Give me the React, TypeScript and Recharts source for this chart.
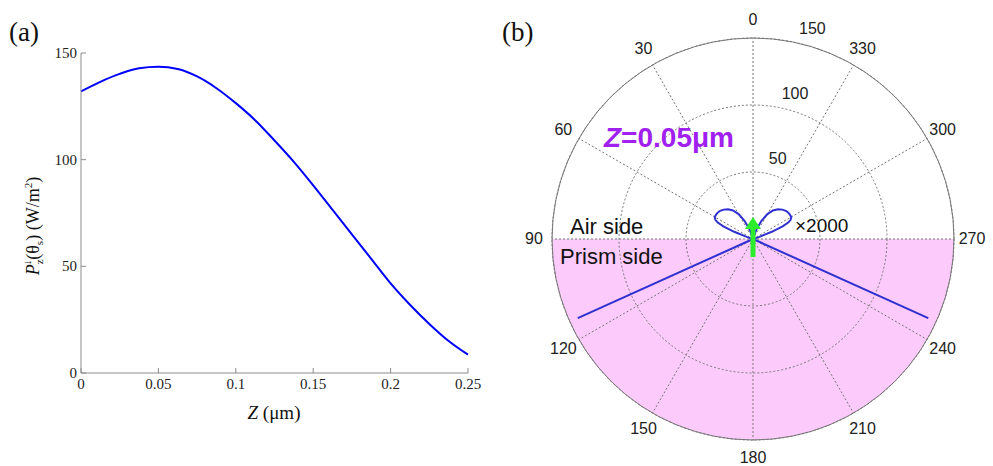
import React from 'react'
import {
  LineChart, Line, XAxis, YAxis,
  RadarChart, Radar, PolarGrid, PolarAngleAxis, PolarRadiusAxis,
  PieChart, Pie,
} from 'recharts'

// (a) downward power vs. distance Z
const zPositions = [
  0, 0.0125, 0.025, 0.0375, 0.05, 0.0625, 0.075, 0.0875, 0.1, 0.1125, 0.125,
  0.1375, 0.15, 0.1625, 0.175, 0.1875, 0.2, 0.2125, 0.225, 0.2375, 0.25,
]
const powerValues = [
  132, 136.5, 140.2, 142.8, 143.5, 142.5, 139, 133.5, 126.5, 118.5, 109,
  99, 88, 76.5, 65, 53.5, 42, 32, 23, 15, 8.6,
]
const zTicks = [0, 0.05, 0.1, 0.15, 0.2, 0.25]
const powerTicks = [0, 50, 100, 150]

// (b) angular emission pattern at Z = 0.05 µm (air side shown x2000)
const patternAngles = [
  0, 10, 20, 25, 30, 35, 40, 45, 50, 55, 60, 63, 65, 67, 69, 71, 75, 90,
  113.8, 114.3, 114.8, 180, 245.2, 245.7, 246.2, 270,
  285, 289, 291, 293, 295, 297, 300, 305, 310, 315, 320, 325, 330, 335, 340, 350, 360,
]
const patternValues = [
  0, 1.5, 8, 15, 21.5, 26, 29, 31, 32.5, 33, 33, 31.5, 29, 24, 15, 5, 1, 0,
  0, 143.5, 0, 0, 0, 143.5, 0, 0,
  1, 5, 15, 24, 29, 31.5, 33, 33, 32.5, 31, 29, 26, 21.5, 15, 8, 1.5, 0,
]
const angleTicks = [0, 30, 60, 90, 120, 150, 180, 210, 240, 270, 300, 330]
const radiusTicks = [0, 50, 100, 150]
const prismHalf = [{ name: 'Prism side', value: 1 }]

const lineData = zPositions.map((z, i) => ({ z, p: powerValues[i] }))
const patternData = patternAngles.map((angle, i) => ({ angle, r: patternValues[i] }))

const SERIF = '"Liberation Serif", "Times New Roman", serif'
const SANS = '"Liberation Sans", Arial, sans-serif'
const FRAME = '#8c8c8c'
const GRID = '#777'

// polar layout of panel (b), local to its box
const CX = 263
const CY = 239
const R = 201
const R_MAX = 150

const BottomTick = (props: any) => {
  const { x, y, payload } = props
  return (
    <g>
      <line x1={x} x2={x} y1={y} y2={y - 5} stroke={FRAME} />
      <text x={x} y={y + 16} textAnchor="middle" fontFamily={SERIF} fontSize={15} fill="#222">
        {payload.value}
      </text>
    </g>
  )
}

const LeftTick = (props: any) => {
  const { x, y, payload } = props
  return (
    <g>
      <line x1={x} x2={x + 5} y1={y} y2={y} stroke={FRAME} />
      <text x={x - 4} y={y + 5} textAnchor="end" fontFamily={SERIF} fontSize={15} fill="#222">
        {payload.value}
      </text>
    </g>
  )
}

const TopTick = (props: any) => {
  const { x, y } = props
  return <line x1={x} x2={x} y1={y} y2={y + 5} stroke={FRAME} />
}

const RightTick = (props: any) => {
  const { x, y } = props
  return <line x1={x} x2={x - 5} y1={y} y2={y} stroke={FRAME} />
}

const AngleTick = (props: any) => {
  const a = props.payload?.value
  if (a === undefined || a >= 360) return null
  const rad = ((90 + a) * Math.PI) / 180
  const x = CX + (R + 18) * Math.cos(rad)
  const y = CY - (R + 18) * Math.sin(rad)
  return (
    <text x={x} y={y + 5} textAnchor="middle" fontFamily={SANS} fontSize={16} fill="#222">
      {a}
    </text>
  )
}

const RadiusTick = (props: any) => {
  const v = props.payload?.value
  if (!v) return null
  const r = (v / R_MAX) * R + 17
  const rad = (75 * Math.PI) / 180
  const x = CX + r * Math.cos(rad) + 3
  const y = CY - r * Math.sin(rad)
  return (
    <text x={x} y={y + 6} textAnchor="middle" fontFamily={SANS} fontSize={16} fill="#222">
      {v}
    </text>
  )
}

function PanelA() {
  return (
    <div style={{ position: 'absolute', left: 0, top: 0, width: 500, height: 466 }}>
      <LineChart width={500} height={466} data={lineData} margin={{ top: 53, right: 32, left: 0, bottom: 0 }}>
        <XAxis
          dataKey="z" type="number" domain={[0, 0.25]} ticks={zTicks}
          height={93} tickSize={0} tickMargin={0} tick={<BottomTick />}
          axisLine={{ stroke: FRAME }} interval={0}
        />
        <XAxis
          xAxisId="top" orientation="top" dataKey="z" type="number" domain={[0, 0.25]} ticks={zTicks}
          height={0} tickSize={0} tickMargin={0} tick={<TopTick />}
          axisLine={{ stroke: FRAME }} interval={0}
        />
        <YAxis
          type="number" domain={[0, 150]} ticks={powerTicks} width={81}
          tickSize={0} tickMargin={0} tick={<LeftTick />}
          axisLine={{ stroke: FRAME }} interval={0}
        />
        <YAxis
          yAxisId="right" orientation="right" type="number" domain={[0, 150]} ticks={powerTicks} width={0}
          tickSize={0} tickMargin={0} tick={<RightTick />}
          axisLine={{ stroke: FRAME }} interval={0}
        />
        <Line
          type="monotone" dataKey="p" stroke="#0000ff" strokeWidth={2}
          dot={false} isAnimationActive={false}
        />
      </LineChart>
      <svg width={500} height={466} style={{ position: 'absolute', left: 0, top: 0, pointerEvents: 'none' }}>
        <text x={9} y={41} fontFamily={SERIF} fontSize={27} fill="#111">(a)</text>
        <text x={274} y={419} textAnchor="middle" fontFamily={SERIF} fontSize={19} fill="#111">
          <tspan fontStyle="italic">Z</tspan> (μm)
        </text>
        <text transform="rotate(-90 39 226)" x={39} y={226} textAnchor="middle" fontFamily={SERIF} fontSize={18} fill="#111">
          <tspan fontStyle="italic">P</tspan>
          <tspan fontSize={11} dy={4}>z</tspan>
          <tspan fontSize={11} dx={-6} dy={-12}>↓</tspan>
          <tspan dy={8}>(θ</tspan>
          <tspan fontSize={11} dy={4}>s</tspan>
          <tspan dy={-4}>) (W/m</tspan>
          <tspan fontSize={11} dy={-7}>2</tspan>
          <tspan dy={7}>)</tspan>
        </text>
      </svg>
    </div>
  )
}

function PanelB() {
  const gridAngles = angleTicks.map((a) => 90 + a)
  const gridRadii = radiusTicks.slice(1).map((v) => (v / R_MAX) * R)
  return (
    <div style={{ position: 'absolute', left: 490, top: 0, width: 503, height: 466 }}>
      <div style={{ position: 'absolute', left: 0, top: 0 }}>
        <PieChart width={503} height={466} margin={{ top: 0, right: 0, bottom: 0, left: 0 }}>
          <Pie
            data={prismHalf} dataKey="value" cx={CX} cy={CY} outerRadius={R} innerRadius={0}
            startAngle={180} endAngle={360} fill="#fccbfc" stroke="none" isAnimationActive={false}
          />
        </PieChart>
      </div>
      <div style={{ position: 'absolute', left: 0, top: 0 }}>
        <RadarChart
          width={503} height={466} cx={CX} cy={CY} outerRadius={R} data={patternData}
          startAngle={90} endAngle={450} margin={{ top: 0, right: 0, bottom: 0, left: 0 }}
        >
          <PolarGrid
            gridType="circle" polarAngles={gridAngles} polarRadius={gridRadii}
            stroke={GRID} strokeDasharray="2 2"
          />
          <PolarAngleAxis
            dataKey="angle" type="number" domain={[0, 360]} ticks={angleTicks} tickCount={13}
            tick={<AngleTick />} tickLine={false} axisLineType="circle" axisLine={{ stroke: GRID }}
          />
          <PolarRadiusAxis
            angle={75} type="number" domain={[0, R_MAX]} tickCount={4}
            tick={<RadiusTick />} axisLine={false} tickLine={false}
          />
          <Radar
            dataKey="r" stroke="#3030d0" strokeWidth={2} fill="none" fillOpacity={0}
            dot={false} isAnimationActive={false}
          />
        </RadarChart>
      </div>
      <svg width={503} height={466} style={{ position: 'absolute', left: 0, top: 0, pointerEvents: 'none' }}>
        <text x={12} y={41} fontFamily={SERIF} fontSize={27} fill="#111">(b)</text>
        <text x={114} y={147} fontFamily={SANS} fontSize={28} fontWeight="bold" fill="#a020f0">
          <tspan fontStyle="italic">Z</tspan>=0.05μm
        </text>
        <text x={80} y={234} fontFamily={SANS} fontSize={22} fill="#111">Air side</text>
        <text x={70} y={264} fontFamily={SANS} fontSize={22} fill="#111">Prism side</text>
        <text x={305} y={232} fontFamily={SANS} fontSize={19} fill="#111">×2000</text>
        {/* dipole orientation */}
        <line x1={CX} x2={CX} y1={CY + 18} y2={CY - 14} stroke="#2cec2c" strokeWidth={5} />
        <polygon
          points={`${CX},${CY - 22} ${CX - 8},${CY - 10} ${CX + 8},${CY - 10}`}
          fill="#2cec2c"
        />
      </svg>
    </div>
  )
}

export default function App() {
  return (
    <div style={{ position: 'fixed', left: 0, top: 0, width: 993, height: 466, background: '#fff', overflow: 'hidden' }}>
      <PanelA />
      <PanelB />
    </div>
  )
}
